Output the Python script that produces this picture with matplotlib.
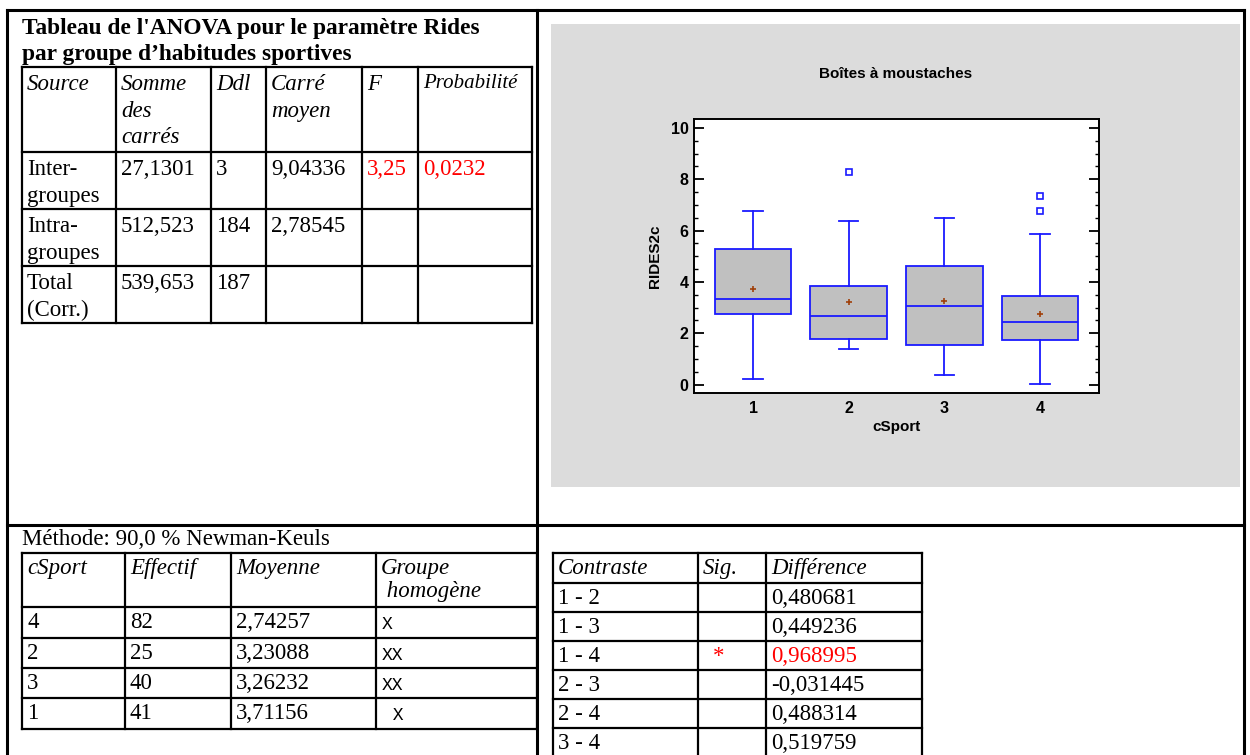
import matplotlib
matplotlib.use('Agg')
import matplotlib.pyplot as plt
from matplotlib.patches import Rectangle
from matplotlib.ticker import MultipleLocator

# ---- ANOVA table ----
anova_title = "Tableau de l'ANOVA pour le paramètre Rides\npar groupe d\u2019habitudes sportives"
anova_header = ['Source', 'Somme\ndes\ncarrés', 'Ddl', 'Carré\nmoyen', 'F', 'Probabilité']
anova_source = ['Inter-\ngroupes', 'Intra-\ngroupes', 'Total\n(Corr.)']
anova_ss = ['27,1301', '512,523', '539,653']
anova_ddl = ['3', '184', '187']
anova_ms = ['9,04336', '2,78545', '']
anova_f = ['3,25', '', '']
anova_p = ['0,0232', '', '']

# ---- Newman-Keuls groups ----
method_label = 'Méthode: 90,0 % Newman-Keuls'
nk_header = ['cSport', 'Effectif', 'Moyenne', 'Groupe\n homogène']
nk_group = ['4', '2', '3', '1']
nk_count = ['82', '25', '40', '41']
nk_mean = ['2,74257', '3,23088', '3,26232', '3,71156']
nk_homog = ['X', 'XX', 'XX', ' X']

# ---- contrasts ----
contrast_header = ['Contraste', 'Sig.', 'Différence']
contrasts = ['1 - 2', '1 - 3', '1 - 4', '2 - 3', '2 - 4', '3 - 4']
contrast_sig = ['', '', '*', '', '', '']
contrast_diff = ['0,480681', '0,449236', '0,968995', '-0,031445', '0,488314', '0,519759']

# ---- box plot ----
box_groups = [1, 2, 3, 4]
whislo = [0.23, 1.37, 0.38, 0.01]
q1 = [2.76, 1.77, 1.54, 1.75]
med = [3.34, 2.66, 3.07, 2.45]
q3 = [5.28, 3.83, 4.61, 3.47]
whishi = [6.75, 6.39, 6.49, 5.85]
box_means = [3.71156, 3.23088, 3.26232, 2.74257]
outliers = [[], [8.28], [], [7.33, 6.75]]

SERIF = 'Liberation Serif'
SANS = 'Liberation Sans'
FS = 16.5
RED = '#ff0000'

W, H = 1250, 755
fig = plt.figure(figsize=(W / 100, H / 100), dpi=100)
fig.patch.set_facecolor('white')

# page axes in pixel coordinates (y down)
page = fig.add_axes([0, 0, 1, 1])
page.set_xlim(0, W)
page.set_ylim(H, 0)
page.axis('off')


def line(x0, y0, x1, y1, lw=1.6):
    page.plot([x0, x1], [y0, y1], color='black', lw=lw, solid_capstyle='projecting')


def draw_table(cols, rows, cells, pad_x=5, pad_y=7, spacing=1.35):
    for x in cols:
        line(x, rows[0], x, rows[-1])
    for y in rows:
        line(cols[0], y, cols[-1], y)
    for i, row in enumerate(cells):
        for j, (txt, kw) in enumerate(row):
            if not txt:
                continue
            opts = dict(family=SERIF, fontsize=FS, color='black', linespacing=spacing)
            opts.update(kw)
            dx = opts.pop('dx', 0)
            dy = opts.pop('dy', 0)
            page.text(cols[j] + pad_x + dx, rows[i] + pad_y + dy, txt, ha='left', va='top', **opts)


# outer frame
line(7, 10, 1244, 10, lw=2.2)
line(7, 10, 7, H, lw=2.2)
line(1244, 10, 1244, H, lw=2.2)
line(537, 10, 537, H, lw=2.2)
line(7, 524.5, 1244, 524.5, lw=2.2)

# ANOVA title + table
page.text(22, 18, anova_title, ha='left', va='top', family=SERIF, fontsize=16.8,
          fontweight='bold', linespacing=1.3)
it = dict(style='italic')
anova_cells = [[(h, dict(it, fontsize=15) if h == 'Probabilité' else it) for h in anova_header]]
for k in range(3):
    anova_cells.append([
        (anova_source[k], {}), (anova_ss[k], {}), (anova_ddl[k], {}), (anova_ms[k], {}),
        (anova_f[k], dict(color=RED)), (anova_p[k], dict(color=RED)),
    ])
draw_table([22, 116, 211, 266, 362, 418, 532], [67, 152, 209, 266, 323], anova_cells)

# Newman-Keuls table
page.text(22, 529, method_label, ha='left', va='top', family=SERIF, fontsize=FS)
nk_cells = [[(h, it) for h in nk_header]]
for k in range(4):
    nk_cells.append([
        (nk_group[k], {}), (nk_count[k], {}), (nk_mean[k], {}),
        (nk_homog[k], dict(family='Liberation Mono', fontsize=13, dx=1, dy=4)),
    ])
draw_table([22, 125, 231, 376, 537], [553, 607, 638, 668, 698, 729], nk_cells,
           pad_y=5, spacing=1.15)

# contrast table
ct_cells = [[(h, it) for h in contrast_header]]
for k in range(6):
    ct_cells.append([
        (contrasts[k], {}),
        (contrast_sig[k], dict(color=RED, dx=10)),
        (contrast_diff[k], dict(color=RED) if contrast_sig[k] else {}),
    ])
draw_table([553, 698, 766, 922], [553, 583, 612, 641, 670, 699, 728, 757], ct_cells,
           pad_y=5)

# grey chart panel
page.add_patch(Rectangle((551, 24), 1240 - 551, 487 - 24, facecolor='#dcdcdc',
                         edgecolor='none', zorder=0))
page.text(896, 74, 'Boîtes à moustaches', ha='center', va='center', family=SANS,
          fontsize=11, fontweight='bold')

# box plot axes
ax = fig.add_axes([694 / W, 1 - 393 / H, (1099 - 694) / W, (393 - 119) / H])
stats = []
for k in range(len(box_groups)):
    stats.append(dict(whislo=whislo[k], q1=q1[k], med=med[k], q3=q3[k],
                      whishi=whishi[k], mean=box_means[k], fliers=outliers[k]))
blue = '#1a1aff'
ax.bxp(stats, positions=box_groups, widths=0.8, showmeans=True, patch_artist=True,
       boxprops=dict(facecolor='#c0c0c0', edgecolor=blue, lw=1.3),
       medianprops=dict(color=blue, lw=1.3),
       whiskerprops=dict(color=blue, lw=1.3),
       capprops=dict(color=blue, lw=1.3),
       capwidths=0.2,
       flierprops=dict(marker='s', markersize=4, markerfacecolor='white',
                       markeredgecolor=blue, markeredgewidth=1.2),
       meanprops=dict(marker='+', markersize=5, markeredgecolor='#a0400a',
                      markeredgewidth=1.2))
ax.set_xlim(0.383, 4.617)
ax.set_ylim(-0.33, 10.35)
ax.set_facecolor('white')
for s in ax.spines.values():
    s.set_linewidth(1.4)
ax.yaxis.set_major_locator(MultipleLocator(2))
ax.yaxis.set_minor_locator(MultipleLocator(0.5))
ax.tick_params(axis='y', which='major', direction='in', length=7, width=1.3,
               left=True, right=True, labelsize=11.5, pad=4)
ax.tick_params(axis='y', which='minor', direction='in', length=3, width=1.0,
               left=True, right=True)
ax.tick_params(axis='x', length=0, labelsize=11.5, pad=6)
ax.set_xticks(box_groups)
ax.set_xticklabels([str(g) for g in box_groups])
for lab in ax.get_xticklabels() + ax.get_yticklabels():
    lab.set_family(SANS)
    lab.set_fontweight('bold')
ax.set_xlabel('cSport', family=SANS, fontweight='bold', fontsize=11, labelpad=3)
ax.set_ylabel('RIDES2c', family=SANS, fontweight='bold', fontsize=11, labelpad=6)

fig.savefig('out.png', dpi=100)
